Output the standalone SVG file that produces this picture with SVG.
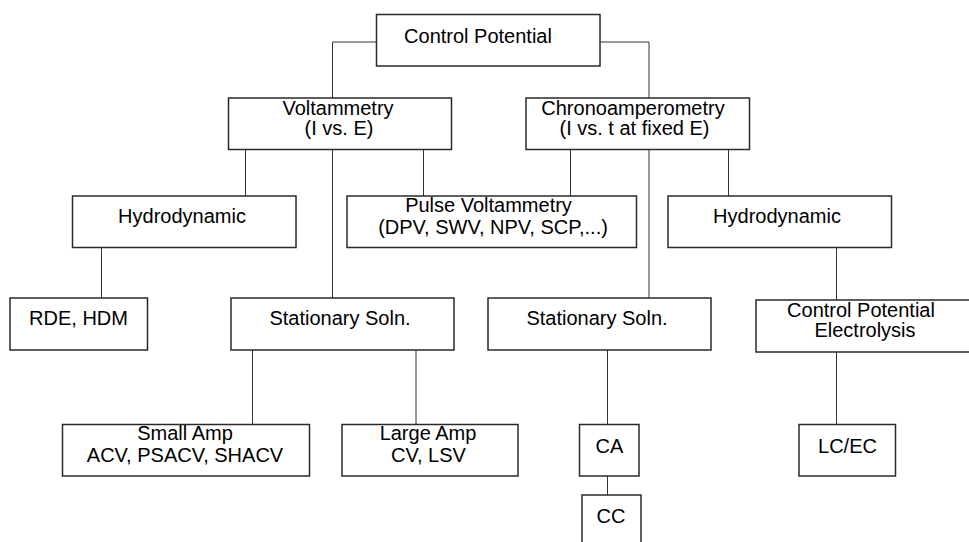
<svg xmlns="http://www.w3.org/2000/svg" width="969" height="542" viewBox="0 0 969 542">
<style>
.box{fill:#fff;stroke:#2a2a2a;stroke-width:1.5}
.t{font-family:"Liberation Sans",Arial,sans-serif;font-size:20px;fill:#000;text-anchor:middle}
.c{fill:none;stroke:#333;stroke-width:1}
</style>
<rect width="969" height="542" fill="#fff"/>
<g id="connectors">
<path class="c" d="M376,42H332.5V98M600,42H649V98"/>
<path class="c" d="M245.5,150V196M332.5,150V298M423.5,150V196M570.5,150V196M649,150V298M728.5,150V196"/>
<path class="c" d="M101.5,248V298M836.5,248V300M836.5,352V424M252.5,350V424M416,350V424M607.5,350V424M607.5,476V495"/>
</g>
<g id="control-potential"><rect class="box" x="376.5" y="14.5" width="223.5" height="51.5"/><text class="t" x="478" y="43">Control Potential</text></g>
<g id="voltammetry"><rect class="box" x="228.5" y="98" width="223" height="51.5"/><text class="t" x="338" y="115">Voltammetry</text><text class="t" x="339" y="135">(I vs. E)</text></g>
<g id="chronoamperometry"><rect class="box" x="526" y="98" width="223.5" height="51.5"/><text class="t" x="633" y="115">Chronoamperometry</text><text class="t" x="634.5" y="135">(I vs. t at fixed E)</text></g>
<g id="hydrodynamic-1"><rect class="box" x="72.5" y="196" width="223.5" height="51.5"/><text class="t" x="182" y="223">Hydrodynamic</text></g>
<g id="pulse-voltammetry"><rect class="box" x="347" y="196" width="289.5" height="51.5"/><text class="t" x="488.5" y="212">Pulse Voltammetry</text><text class="t" x="493" y="234">(DPV, SWV, NPV, SCP,...)</text></g>
<g id="hydrodynamic-2"><rect class="box" x="668" y="196" width="223.5" height="51.5"/><text class="t" x="777" y="223">Hydrodynamic</text></g>
<g id="rde-hdm"><rect class="box" x="10" y="298" width="137.5" height="52"/><text class="t" x="78.5" y="325">RDE, HDM</text></g>
<g id="stationary-1"><rect class="box" x="231" y="298" width="223" height="52"/><text class="t" x="340" y="325">Stationary Soln.</text></g>
<g id="stationary-2"><rect class="box" x="488" y="298" width="223" height="52"/><text class="t" x="597" y="325">Stationary Soln.</text></g>
<g id="cpe"><rect class="box" x="756" y="300" width="230" height="52"/><text class="t" x="861" y="316.5">Control Potential</text><text class="t" x="865" y="336.5">Electrolysis</text></g>
<g id="small-amp"><rect class="box" x="62.5" y="424.5" width="247" height="51.5"/><text class="t" x="185" y="440">Small Amp</text><text class="t" x="185" y="461.5">ACV, PSACV, SHACV</text></g>
<g id="large-amp"><rect class="box" x="342" y="424.5" width="176" height="51.5"/><text class="t" x="428" y="440">Large Amp</text><text class="t" x="428.5" y="461.5">CV, LSV</text></g>
<g id="ca"><rect class="box" x="579.5" y="424.5" width="59.5" height="51.5"/><text class="t" x="609.5" y="453">CA</text></g>
<g id="cc"><rect class="box" x="582" y="495" width="59" height="60"/><text class="t" x="611" y="522.5">CC</text></g>
<g id="lc-ec"><rect class="box" x="799" y="424.5" width="96.5" height="51.5"/><text class="t" x="847.5" y="452.5">LC/EC</text></g>
</svg>
